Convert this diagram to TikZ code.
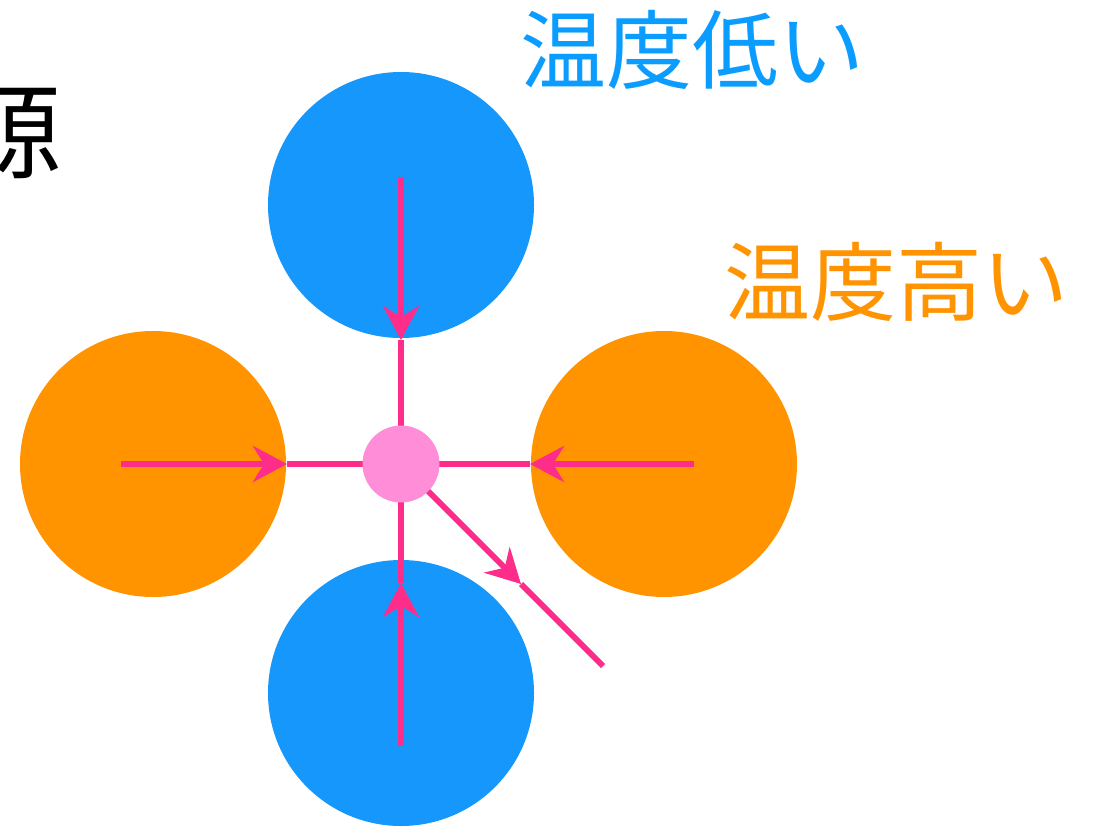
\documentclass[tikz,border=0pt]{standalone}
\usepackage{fontspec}
\newfontfamily\cjk{Noto Sans CJK JP}
\usetikzlibrary{arrows.meta}
\definecolor{cblue}{HTML}{1597FB}
\definecolor{corange}{HTML}{FF9300}
\definecolor{cpink}{HTML}{FF2D8A}
\definecolor{clight}{HTML}{FF8DD8}
\definecolor{tblue}{HTML}{0B9CFF}
\tikzset{
  bigdisc/.style={circle, minimum size=266pt, inner sep=0pt, draw=none},
  flow/.style={draw=cpink, line width=6pt},
  flowarrow/.style={flow, -{Stealth[length=34pt, width=36pt, inset=11pt]}},
  lbl/.style={inner sep=0pt, font=\cjk\fontsize{86}{90}\selectfont}
}
\begin{document}
\begin{tikzpicture}[x=1pt,y=-1pt]
\useasboundingbox (0,0) rectangle (1097,829);
\clip (0,0) rectangle (1097,829);
\node[bigdisc, fill=cblue] (top) at (401,205) {};
\node[bigdisc, fill=cblue] (bot) at (401,693) {};
\node[bigdisc, fill=corange] (left) at (153,464) {};
\node[bigdisc, fill=corange] (right) at (664,464) {};
\coordinate (c) at (401,464);
\coordinate (ts) at (401,177);
\coordinate (tt) at (401,340);
\coordinate (bs) at (401,746);
\coordinate (bt) at (401,583);
\coordinate (ls) at (121,464);
\coordinate (lt) at (287,464);
\coordinate (rs) at (694,464);
\coordinate (rt) at (530,464);
\coordinate (de) at (603,666);
\coordinate (dt) at (521,584);
\draw[flowarrow] (ts) -- (tt);
\draw[flow] (tt) -- (c);
\draw[flowarrow] (bs) -- (bt);
\draw[flow] (bt) -- (c);
\draw[flowarrow] (ls) -- (lt);
\draw[flow] (lt) -- (c);
\draw[flowarrow] (rs) -- (rt);
\draw[flow] (rt) -- (c);
\draw[flowarrow] (c) -- (dt);
\draw[flow] (dt) -- (de);
\node[circle, minimum size=77pt, inner sep=0pt, fill=clight] (hub) at (c) {};
\node[lbl, text=tblue] (low) at (692,50) {温度低い};
\node[lbl, text=corange] (high) at (896,282) {温度高い};
\node[lbl, text=black, anchor=east, font=\cjk\fontsize{104}{110}\selectfont] (src) at (62,132) {源};
\end{tikzpicture}
\end{document}
